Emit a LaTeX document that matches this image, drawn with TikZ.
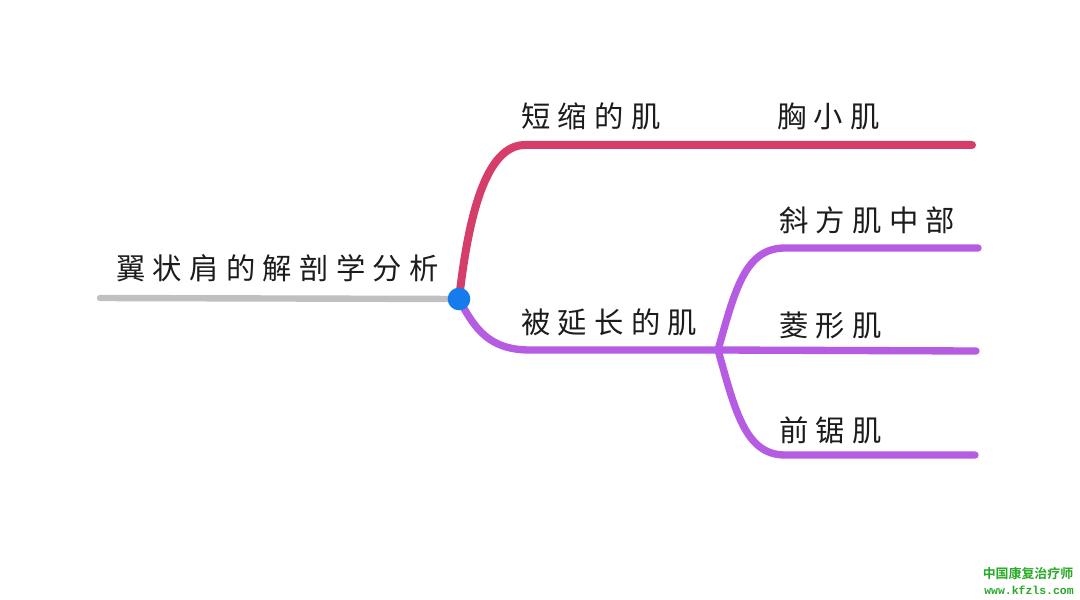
\documentclass[tikz,border=0pt]{standalone}
\usepackage{fontspec}
\newfontfamily\cjk{Noto Sans CJK SC}[LetterSpace=25]
\newfontfamily\cjkw{Noto Sans CJK SC}[BoldFont={* Bold}]
\newfontfamily\monow{Liberation Mono}
\definecolor{redbr}{RGB}{212,62,104}
\definecolor{purbr}{RGB}{182,92,226}
\definecolor{graybr}{RGB}{192,192,194}
\definecolor{bluedot}{RGB}{22,124,236}
\definecolor{txt}{RGB}{28,28,28}
\definecolor{wmgreen}{RGB}{40,170,40}
\tikzset{
  lbl/.style={font=\cjk\fontsize{22pt}{24pt}\selectfont, text=txt, inner sep=0pt, anchor=west},
  redline/.style={draw=redbr, line width=6pt, line cap=round},
  purline/.style={draw=purbr, line width=5.5pt, line cap=round},
  grayline/.style={draw=graybr, line width=4.8pt, line cap=round},
}
\begin{document}
\begin{tikzpicture}[x=0.75pt,y=-0.75pt]
\useasboundingbox[fill=white] (0,0) rectangle (1080,599);
% coordinates
\coordinate (gs) at (100,298);
\coordinate (c) at (459,299);
\coordinate (r1) at (525,145);
\coordinate (r2) at (972,145);
\coordinate (p1) at (530,350);
\coordinate (j) at (718,350);
\coordinate (pm) at (976,351);
\coordinate (pu1) at (785,248);
\coordinate (pu2) at (978,248);
\coordinate (pl1) at (785,455);
\coordinate (pl2) at (975,455);
% branches
\draw[grayline] (gs) -- (c);
\draw[redline] (c) .. controls (466,240) and (480,145) .. (r1) -- (r2);
\draw[purline] (c) .. controls (475,330) and (490,350) .. (p1) -- (j) -- (pm);
\draw[purline] (j) .. controls (735,290) and (745,248) .. (pu1) -- (pu2);
\draw[purline] (j) .. controls (735,410) and (745,455) .. (pl1) -- (pl2);
\node[circle, fill=bluedot, minimum size=17pt, inner sep=0pt] (dot) at (c) {};
% labels
\node[lbl] (root) at (116,268) {翼状肩的解剖学分析};
\node[lbl] (short) at (521,116) {短缩的肌};
\node[lbl] (xiong) at (777,116) {胸小肌};
\node[lbl] (long) at (521,322) {被延长的肌};
\node[lbl] (xie) at (779,220) {斜方肌中部};
\node[lbl] (ling) at (779,325) {菱形肌};
\node[lbl] (qian) at (779,430) {前锯肌};
% watermark
\node[font=\cjkw\bfseries\fontsize{9.7pt}{11pt}\selectfont, text=wmgreen, inner sep=0pt] (wm1) at (1028,574) {中国康复治疗师};
\node[font=\monow\bfseries\fontsize{8.6pt}{10pt}\selectfont, text=wmgreen, inner sep=0pt] (wm2) at (1029,590) {www.kfzls.com};
\end{tikzpicture}
\end{document}
